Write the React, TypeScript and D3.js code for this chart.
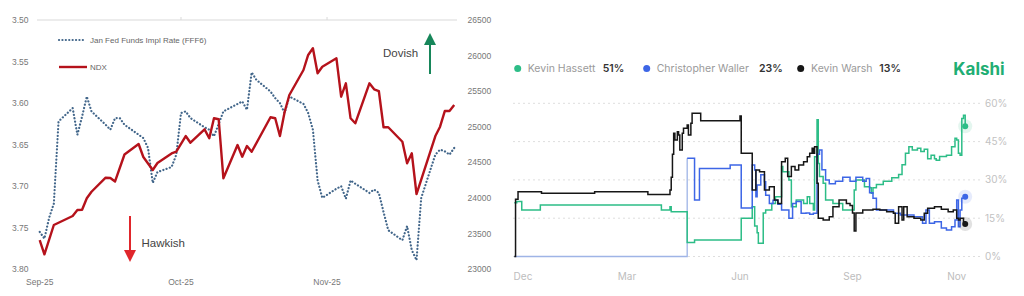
import React from 'react';
import * as d3 from 'd3';

// ---------- Left chart data ----------
const ndxData: [string, number][] = [
  ["2025-09-01",23411],["2025-09-02",23210],["2025-09-04",23622],["2025-09-08",23748],["2025-09-09",23832],
  ["2025-09-10",23837],["2025-09-11",23997],["2025-09-12",24089],["2025-09-15",24286],["2025-09-16",24282],
  ["2025-09-17",24233],["2025-09-19",24612],["2025-09-22",24759],["2025-09-23",24577],["2025-09-25",24394],
  ["2025-09-26",24492],["2025-09-29",24626],["2025-09-30",24651],["2025-10-02",24871],["2025-10-03",24777],
  ["2025-10-06",24965],["2025-10-07",24839],["2025-10-08",25120],["2025-10-09",25106],["2025-10-10",24277],
  ["2025-10-13",24745],["2025-10-14",24581],["2025-10-15",24731],["2025-10-16",24651],["2025-10-20",25134],
  ["2025-10-21",25120],["2025-10-22",24871],["2025-10-23",25208],["2025-10-24",25447],["2025-10-27",25798],
  ["2025-10-28",26009],["2025-10-29",26103],["2025-10-30",25752],["2025-10-31",25844],["2025-11-03",25962],
  ["2025-11-04",25423],["2025-11-05",25611],["2025-11-06",25120],["2025-11-07",25050],["2025-11-10",25611],
  ["2025-11-11",25527],["2025-11-12",25503],["2025-11-13",24994],["2025-11-14",24994],["2025-11-17",24791],
  ["2025-11-18",24488],["2025-11-19",24628],["2025-11-20",24057],["2025-11-24",24871],["2025-11-25",25002],
  ["2025-11-26",25222],["2025-11-27",25222],["2025-11-28",25307],
];
const fedRateData: [string, number][] = [
  ["2025-09-01",3.755],["2025-09-02",3.763],["2025-09-03",3.738],["2025-09-04",3.721],["2025-09-05",3.622],
  ["2025-09-08",3.606],["2025-09-09",3.638],["2025-09-10",3.616],["2025-09-11",3.592],["2025-09-12",3.610],
  ["2025-09-15",3.626],["2025-09-16",3.632],["2025-09-17",3.618],["2025-09-18",3.618],["2025-09-19",3.626],
  ["2025-09-22",3.638],["2025-09-23",3.642],["2025-09-24",3.654],["2025-09-25",3.696],["2025-09-26",3.683],
  ["2025-09-29",3.677],["2025-09-30",3.662],["2025-10-01",3.612],["2025-10-02",3.610],["2025-10-03",3.618],
  ["2025-10-06",3.629],["2025-10-07",3.632],["2025-10-08",3.640],["2025-10-09",3.625],["2025-10-10",3.610],
  ["2025-10-13",3.601],["2025-10-14",3.598],["2025-10-15",3.608],["2025-10-16",3.563],["2025-10-17",3.572],
  ["2025-10-20",3.586],["2025-10-21",3.594],["2025-10-22",3.600],["2025-10-23",3.612],["2025-10-24",3.592],
  ["2025-10-27",3.601],["2025-10-28",3.612],["2025-10-29",3.632],["2025-10-30",3.693],["2025-10-31",3.714],
  ["2025-11-03",3.703],["2025-11-04",3.700],["2025-11-05",3.715],["2025-11-06",3.693],["2025-11-07",3.697],
  ["2025-11-10",3.708],["2025-11-11",3.704],["2025-11-12",3.708],["2025-11-13",3.731],["2025-11-14",3.753],
  ["2025-11-17",3.765],["2025-11-18",3.748],["2025-11-19",3.777],["2025-11-20",3.789],["2025-11-21",3.714],
  ["2025-11-24",3.662],["2025-11-25",3.656],["2025-11-26",3.658],["2025-11-27",3.662],["2025-11-28",3.654],
];
const rateTicks = [3.5, 3.55, 3.6, 3.65, 3.7, 3.75, 3.8];
const ndxTicks = [23000, 23500, 24000, 24500, 25000, 25500, 26000, 26500];
const leftMonthTicks = ["2025-09-01", "2025-10-01", "2025-11-01"];
const leftMonthLabels = ["Sep-25", "Oct-25", "Nov-25"];

// ---------- Right chart data (Kalshi) ----------
const hassettData: [string, number][] = [
  ["2024-11-24",21.1],["2024-11-26",21.5],["2024-11-30",18.2],["2024-12-16",20.2],["2025-03-29",18.2],
  ["2025-04-05",19.5],["2025-04-06",17.5],["2025-04-19",5.5],["2025-04-25",6.5],["2025-06-02",15],
  ["2025-06-11",19.5],["2025-06-13",11.9],["2025-06-15",9.3],["2025-06-16",5.2],["2025-06-20",17.0],
  ["2025-06-22",18.2],["2025-06-27",20.8],["2025-06-30",23.4],["2025-07-05",35.2],["2025-07-06",33.2],
  ["2025-07-09",33.2],["2025-07-11",30],["2025-07-13",19.5],["2025-07-17",22.1],["2025-07-21",22.1],
  ["2025-07-23",20.8],["2025-07-26",23.4],["2025-07-28",20.8],["2025-07-31",18.2],["2025-08-01",39.1],
  ["2025-08-03",53.6],["2025-08-04",36.4],["2025-08-05",31.3],["2025-08-08",28.7],["2025-08-10",22.1],
  ["2025-08-16",20.8],["2025-08-24",18.2],["2025-09-02",26],["2025-09-03",30],["2025-09-08",27.3],
  ["2025-09-11",26.9],["2025-09-12",24.8],["2025-09-13",26.9],["2025-09-15",28.2],["2025-09-19",29.5],
  ["2025-09-24",30.8],["2025-09-28",32.1],["2025-09-30",35.9],["2025-10-02",40.4],["2025-10-04",43.0],
  ["2025-10-06",41.7],["2025-10-09",42.4],["2025-10-11",41.1],["2025-10-13",42.0],["2025-10-15",38.3],
  ["2025-10-17",39.7],["2025-10-19",38.3],["2025-10-20",37.7],["2025-10-22",39.2],["2025-10-26",39.7],
  ["2025-10-29",43.0],["2025-10-31",46.3],["2025-11-01",45.6],["2025-11-02",40.4],["2025-11-03",39.7],
  ["2025-11-04",54],["2025-11-05",55.3],["2025-11-06",51.0],
];
const wallerData: [string, number][] = [
  ["2024-11-24",0],["2025-04-19",38.5],["2025-04-25",22.1],["2025-04-29",34.5],["2025-05-24",35.8],
  ["2025-06-02",19],["2025-06-11",35.8],["2025-06-13",33.9],["2025-06-14",23.4],["2025-06-15",28],
  ["2025-06-18",32],["2025-06-21",29.3],["2025-06-22",24],["2025-06-25",20.8],["2025-06-28",22],
  ["2025-07-02",20.5],["2025-07-05",18.2],["2025-07-11",15.0],["2025-07-14",20.8],["2025-07-17",21.5],
  ["2025-07-21",16.9],["2025-07-25",17],["2025-07-28",16.5],["2025-07-31",16.9],["2025-08-03",40],
  ["2025-08-05",41.7],["2025-08-07",34],["2025-08-10",30],["2025-08-13",28.5],["2025-08-18",29.5],
  ["2025-08-24",31],["2025-08-30",29.5],["2025-09-03",31],["2025-09-07",29.5],["2025-09-09",30.5],
  ["2025-09-11",25],["2025-09-13",22.8],["2025-09-15",18.2],["2025-09-25",16.9],["2025-09-29",16.3],
  ["2025-10-07",15.6],["2025-10-12",13],["2025-10-14",18.2],["2025-10-16",13],["2025-10-19",13.6],
  ["2025-10-23",11.2],["2025-10-26",10.4],["2025-10-29",11.7],["2025-10-31",14.3],["2025-11-01",22.1],
  ["2025-11-02",11.7],["2025-11-03",18.2],["2025-11-04",22.8],["2025-11-06",23.4],
];
const warshData: [string, number][] = [
  ["2024-11-24",0],["2024-11-25",22.4],["2024-11-27",25.4],["2024-12-17",24.8],["2025-02-01",25.4],
  ["2025-03-18",24.3],["2025-04-05",26],["2025-04-06",31],["2025-04-07",40],["2025-04-08",48.3],
  ["2025-04-09",45.6],["2025-04-11",48.9],["2025-04-12",47.6],["2025-04-13",41.7],["2025-04-15",48.3],
  ["2025-04-16",50.2],["2025-04-19",51.5],["2025-04-20",47.6],["2025-04-22",52.2],["2025-04-23",56.1],
  ["2025-04-30",53.2],["2025-06-01",55.0],["2025-06-02",40.4],["2025-06-11",26.0],["2025-06-14",33.9],
  ["2025-06-17",33.2],["2025-06-21",26.0],["2025-06-25",27.3],["2025-06-29",22.1],["2025-07-02",20.8],
  ["2025-07-05",37.1],["2025-07-08",38.5],["2025-07-10",31.3],["2025-07-13",35.2],["2025-07-16",33.9],
  ["2025-07-19",35.8],["2025-07-23",37.1],["2025-07-26",39.1],["2025-07-28",40.4],["2025-07-30",42.4],
  ["2025-07-31",40.4],["2025-08-01",43.0],["2025-08-03",28.7],["2025-08-04",15.0],["2025-08-08",14.3],
  ["2025-08-13",15.6],["2025-08-16",19.5],["2025-08-21",22.1],["2025-08-27",20.8],["2025-08-30",20],
  ["2025-09-01",17],["2025-09-02",10],["2025-09-03",17],["2025-09-07",18.2],["2025-09-13",18.5],
  ["2025-09-17",18.2],["2025-09-21",17.5],["2025-09-25",16.9],["2025-09-26",13.0],["2025-09-28",19.5],
  ["2025-09-30",14.3],["2025-10-01",19.5],["2025-10-03",15.6],["2025-10-07",15.0],["2025-10-11",14.3],
  ["2025-10-13",16.9],["2025-10-15",18.9],["2025-10-19",19.5],["2025-10-23",18.5],["2025-10-27",17.5],
  ["2025-10-30",18.2],["2025-11-01",15.0],["2025-11-02",14.3],["2025-11-03",15.0],["2025-11-05",13.6],
  ["2025-11-06",12.7],
];
const pctTicks = [0, 15, 30, 45, 60];
const rightMonthTicks = ["2024-12-01", "2025-03-01", "2025-06-01", "2025-09-01", "2025-11-01"];
const candidates = ["Kevin Hassett", "Christopher Waller", "Kevin Warsh"];
const candidatePcts = ["51%", "23%", "13%"];

const parse = d3.timeParse("%Y-%m-%d") as (s: string) => Date;

export default function App() {
  // Left scales
  const xL = d3.scaleTime().domain([parse("2025-09-01"), parse("2025-11-28")]).range([39.7, 454.2]);
  const yRate = d3.scaleLinear().domain([3.5, 3.8]).range([20, 269.3]);
  const yNdx = d3.scaleLinear().domain([23000, 26500]).range([269.3, 20]);

  const ndxLine = d3.line<[string, number]>().x(d => xL(parse(d[0]))).y(d => yNdx(d[1]));
  const rateLine = d3.line<[string, number]>().x(d => xL(parse(d[0]))).y(d => yRate(d[1]));

  // Right scales (piecewise time axis)
  const xR = d3.scaleTime()
    .domain(["2024-11-24", "2024-12-01", "2025-03-01", "2025-06-01", "2025-09-01", "2025-11-01", "2025-11-06"].map(parse))
    .range([514.3, 523, 627, 740, 852.5, 956.7, 965.2]);
  const yR = d3.scaleLinear().domain([0, 60]).range([256.5, 103.3]);
  const stepLine = d3.line<[string, number]>().x(d => xR(parse(d[0]))).y(d => yR(d[1])).curve(d3.curveStepAfter);

  const green = "#2dbd87";
  const blue = "#3d66e6";
  const black = "#161616";
  const series = [
    { data: hassettData, color: green },
    { data: wallerData, color: blue },
    { data: warshData, color: black },
  ];
  const legendX = [[517.7, 527.7, 602.7], [646.7, 656.7, 759], [800.7, 811, 879.3]];

  const leftFont = "'Liberation Sans', Arial, sans-serif";
  const rightFont = "Inter, 'Noto Sans', sans-serif";

  return (
    <svg width={1024} height={296} style={{ position: 'absolute', left: 0, top: 0, background: '#fff' }}>
      <rect x={0} y={0} width={1024} height={296} fill="#fff" />
      {/* ---------------- Left chart ---------------- */}
      <g fontFamily={leftFont}>
        <line x1={37} x2={457} y1={yRate(3.5)} y2={yRate(3.5)} stroke="#d9d9d9" strokeWidth={1} />
        {leftMonthTicks.slice(1).map(t => (
          <line key={t} x1={xL(parse(t))} x2={xL(parse(t))} y1={yRate(3.5) - 3} y2={yRate(3.5)} stroke="#d9d9d9" />
        ))}
        {rateTicks.map(t => (
          <text key={t} x={28.5} y={yRate(t)} dy="0.35em" textAnchor="end" fontSize={8.5} fill="#777">{t.toFixed(2)}</text>
        ))}
        {ndxTicks.map(t => (
          <text key={t} x={467.5} y={yNdx(t)} dy="0.35em" textAnchor="start" fontSize={8.5} fill="#777">{t}</text>
        ))}
        {leftMonthTicks.map((t, i) => (
          <text key={t} x={xL(parse(t))} y={285} textAnchor="middle" fontSize={8.5} fill="#777">{leftMonthLabels[i]}</text>
        ))}
        <path d={rateLine(fedRateData) || ''} fill="none" stroke="#42668a" strokeWidth={2.2}
          strokeDasharray="0.1 3.3" strokeLinecap="round" />
        <path d={ndxLine(ndxData) || ''} fill="none" stroke="#b5121b" strokeWidth={2.4} strokeLinejoin="round" />
        {/* legend */}
        <line x1={59} x2={86} y1={40} y2={40} stroke="#42668a" strokeWidth={2.2} strokeDasharray="0.1 3.3" strokeLinecap="round" />
        <text x={90} y={40} dy="0.35em" fontSize={8} fill="#666">Jan Fed Funds Impl Rate (FFF6)</text>
        <line x1={59} x2={87} y1={67} y2={67} stroke="#b5121b" strokeWidth={2.4} />
        <text x={90} y={67} dy="0.35em" fontSize={8} fill="#666">NDX</text>
        {/* annotations */}
        <text x={383} y={56.7} fontSize={11.5} fill="#444">Dovish</text>
        <line x1={430} x2={430} y1={74} y2={42} stroke="#17865a" strokeWidth={2} />
        <path d="M424,45 L430,33 L436,45 Z" fill="#17865a" />
        <text x={141.5} y={247.3} fontSize={11.5} fill="#444">Hawkish</text>
        <line x1={130} x2={130} y1={216} y2={252} stroke="#e0262b" strokeWidth={2} />
        <path d="M124,250 L130,262 L136,250 Z" fill="#e0262b" />
      </g>

      {/* ---------------- Right chart ---------------- */}
      <g fontFamily={rightFont}>
        {pctTicks.map(t => (
          <g key={t}>
            <line x1={513} x2={980} y1={yR(t)} y2={yR(t)} stroke="#dedede" strokeWidth={1} strokeDasharray="2 3" />
            <text x={985} y={yR(t)} dy="0.35em" fontSize={10} fill="#c2c2c2">{t}%</text>
          </g>
        ))}
        {rightMonthTicks.map(t => (
          <text key={t} x={xR(parse(t))} y={279.5} textAnchor="middle" fontSize={10} fill="#bdbdbd">
            {d3.timeFormat("%b")(parse(t))}
          </text>
        ))}
        {/* Waller's initial flat stretch is drawn pale, as in the source */}
        <path d={stepLine(wallerData.slice(0, 2)) || ''} fill="none" stroke="#9fb4e6" strokeWidth={1.3} />
        {series.map((s, i) => (
          <path key={i} d={stepLine(s === series[1] ? s.data.slice(1) : s.data) || ''} fill="none" stroke={s.color} strokeWidth={1.5} />
        ))}
        {series.map((s, i) => {
          const last = s.data[s.data.length - 1];
          const cx = xR(parse(last[0]));
          const cy = yR(last[1]);
          return (
            <g key={i}>
              <circle cx={cx} cy={cy} r={7} fill={s.color} opacity={0.13} />
              <circle cx={cx} cy={cy} r={3} fill={s.color} />
            </g>
          );
        })}
        {/* legend */}
        {candidates.map((c, i) => (
          <g key={c}>
            <circle cx={legendX[i][0]} cy={68.5} r={3.5} fill={series[i].color} />
            <text x={legendX[i][1]} y={68.5} dy="0.35em" fontSize={10.5} fill="#9a9a9a">{c}</text>
            <text x={legendX[i][2]} y={68.5} dy="0.35em" fontSize={10.5} fontWeight={600} fill="#333">{candidatePcts[i]}</text>
          </g>
        ))}
        <text x={953.3} y={69.5} dy="0.35em" fontSize={17} fontWeight={700} fill="#1fae74">Kalshi</text>
      </g>
    </svg>
  );
}
